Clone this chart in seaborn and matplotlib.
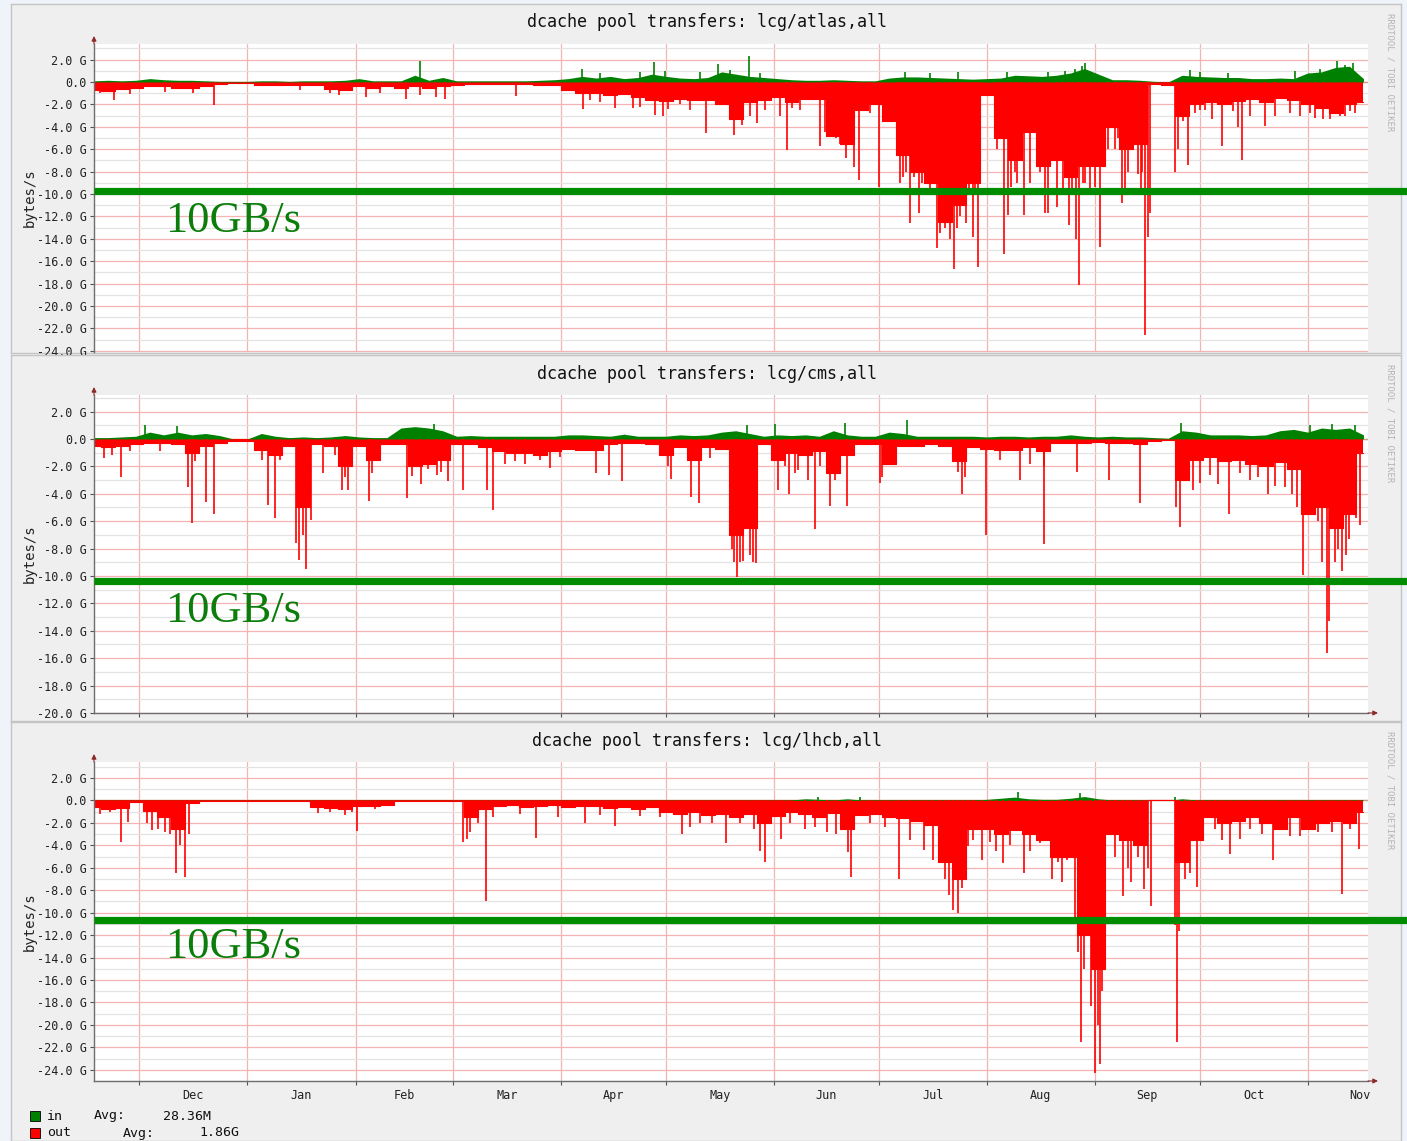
import numpy as np
import pandas as pd
import seaborn as sns
import matplotlib.pyplot as plt
from matplotlib.patches import Rectangle
from matplotlib.ticker import FixedLocator, MultipleLocator, FuncFormatter, NullFormatter

# x = days since 18 Nov (left edge of the graphs), y = GB/s, out drawn negative
start = pd.Timestamp("2010-11-18")
month_starts = pd.date_range("2010-12-01", "2011-11-01", freq="MS")
month_names = [d.strftime("%b") for d in month_starts]

# one "body" value every 4 days, the narrow spikes are listed apart
sample_days = np.arange(0, 365, 4)

titles = ["dcache pool transfers: lcg/atlas,all",
          "dcache pool transfers: lcg/cms,all",
          "dcache pool transfers: lcg/lhcb,all"]
limit_lines = [-9.72, -10.35, -10.69]      # the hand drawn green bars
limit_text = "10GB/s"
legend_names = ["in", "out"]
legend_avgs = ["28.36M", "1.86G"]

# ---------------- atlas ----------------
atlas_out = [-0.7, -0.8, -0.6, -0.5, -0.4, -0.4, -0.5, -0.5, -0.4, -0.15,
             -0.1, -0.1, -0.3, -0.3, -0.25, -0.3, -0.3, -0.6, -0.7, -0.4,
             -0.5, -0.4, -0.5, -0.4, -0.5, -0.35, -0.25, -0.2, -0.2, -0.2,
             -0.2, -0.2, -0.25, -0.3, -0.7, -1.0, -1.0, -1.2, -1.1, -1.3,
             -1.6, -1.7, -1.5, -1.6, -1.6, -2.0, -3.3, -1.8, -1.6, -1.3,
             -1.8, -1.5, -1.5, -4.8, -5.5, -2.5, -2.0, -3.5, -6.5, -8.0,
             -9.0, -12.5, -11.0, -9.0, -1.2, -5.0, -7.0, -4.5, -7.5, -7.0,
             -8.5, -7.5, -7.5, -4.0, -6.0, -5.5, -0.2, -0.3, -3.0, -2.0,
             -1.8, -2.0, -1.7, -1.5, -1.8, -1.4, -1.6, -2.0, -2.3, -2.8,
             -2.0, -1.8]
atlas_in = [0.1, 0.15, 0.1, 0.15, 0.3, 0.2, 0.15, 0.15, 0.1, 0.05,
            0.05, 0.05, 0.1, 0.1, 0.05, 0.1, 0.1, 0.1, 0.15, 0.3,
            0.1, 0.1, 0.1, 0.6, 0.15, 0.4, 0.1, 0.1, 0.1, 0.1,
            0.1, 0.1, 0.15, 0.2, 0.3, 0.5, 0.35, 0.5, 0.3, 0.4,
            0.7, 0.5, 0.35, 0.3, 0.4, 0.9, 0.7, 0.5, 0.4, 0.3,
            0.2, 0.15, 0.15, 0.2, 0.15, 0.1, 0.1, 0.35, 0.45, 0.45,
            0.4, 0.35, 0.3, 0.25, 0.3, 0.35, 0.6, 0.55, 0.5, 0.6,
            0.8, 1.2, 0.7, 0.2, 0.2, 0.15, 0.05, 0.0, 0.6, 0.5,
            0.45, 0.4, 0.4, 0.3, 0.3, 0.35, 0.3, 0.8, 0.9, 1.3,
            1.4, 0.3]
atlas_spike_day = [5.7, 28.4, 34.4, 70.3, 78.0, 89.5, 100.7, 121.0, 140.2, 149.4,
                   154.6, 160.9, 163.2, 175.5, 183.5, 190.1, 196.7, 198.7, 208.2, 211.1,
                   215.7, 218.0, 219.4, 225.1, 231.1, 234.0, 236.6, 241.8, 242.6, 244.0,
                   245.5, 246.6, 248.3, 250.1, 252.1, 253.5, 261.0, 262.1, 264.7, 266.7,
                   268.4, 272.7, 273.6, 276.2, 277.9, 279.6, 281.6, 282.5, 284.2, 285.6,
                   288.5, 292.8, 294.8, 296.5, 298.0, 299.4, 300.3, 301.4, 302.3, 310.0,
                   313.7, 317.2, 320.6, 323.5, 329.2, 331.5, 335.8, 343.0, 350.2, 354.5,
                   358.8, 361.6,
                   209.6, 212.8, 213.9, 216.8, 222.5, 230.3, 232.0, 232.9, 235.2, 237.5,
                   238.7, 239.8, 247.5, 248.9, 250.9, 252.6, 254.0, 259.0, 259.8, 263.0,
                   264.1, 265.6, 269.9, 271.3, 278.8, 280.5, 283.6, 287.1, 290.8, 293.7,
                   295.6, 300.6, 302.9, 310.9, 312.3, 315.7, 318.6, 326.6, 328.1, 338.6,
                   345.9, 348.7, 352.4, 357.2, 360.2, 1.7, 10.3, 20.4, 59.1, 67.7,
                   82.0, 93.5, 98.1, 142.2, 145.1, 156.6, 164.6, 168.1, 170.9, 179.5,
                   185.8, 188.1, 192.4, 200.2, 202.5]
atlas_spike_out = [-1.6, -1.0, -2.1, -1.2, -1.35, -1.5, -1.5, -1.25, -2.4, -2.3,
                   -2.3, -2.95, -3.0, -4.6, -4.7, -3.7, -3.0, -6.1, -5.7, -4.3,
                   -6.8, -7.6, -8.75, -9.35, -9.0, -12.6, -11.7, -14.8, -13.5, -13.0,
                   -14.0, -16.7, -12.0, -12.6, -13.8, -16.5, -15.4, -11.9, -9.0, -11.9,
                   -9.0, -11.7, -11.7, -11.2, -10.0, -12.8, -14.0, -18.1, -9.0, -9.5,
                   -14.7, -6.0, -10.8, -8.0, -5.0, -8.2, -10.0, -22.6, -13.8, -8.0,
                   -7.4, -2.5, -3.3, -5.7, -7.0, -3.0, -3.9, -2.8, -3.2, -3.3,
                   -3.0, -2.8,
                   -4.5, -5.0, -5.5, -5.2, -2.8, -5.5, -8.5, -8.0, -8.5, -9.0,
                   -8.0, -10.0, -13.0, -11.0, -9.6, -9.5, -5.0, -6.0, -5.0, -9.4,
                   -8.0, -6.5, -3.5, -8.0, -8.0, -10.0, -9.0, -9.4, -6.0, -5.0,
                   -10.0, -8.0, -11.7, -6.0, -3.5, -2.8, -2.5, -2.6, -4.0, -3.0,
                   -3.0, -2.8, -3.3, -3.0, -2.6, -1.0, -1.1, -0.9, -0.7, -1.0,
                   -1.0, -1.2, -1.3, -1.6, -1.8, -2.2, -2.4, -2.0, -2.5, -2.0,
                   -3.8, -3.0, -2.5, -2.3, -2.5]
atlas_in_spike_day = [93.5, 140.0, 160.6, 178.9, 187.8, 284.2, 356.5,
                      145.1, 156.6, 163.7, 173.8, 182.4, 191.0, 232.6, 239.8, 247.8,
                      261.8, 273.6, 278.5, 281.3, 283.3, 314.3, 317.2, 325.2, 344.4,
                      351.6, 358.8, 361.1]
atlas_in_spike_val = [1.9, 1.15, 1.8, 1.6, 2.3, 1.65, 1.9,
                      0.8, 0.9, 1.0, 0.9, 1.1, 0.8, 0.9, 0.8, 0.85,
                      0.85, 0.9, 1.0, 1.2, 1.4, 1.1, 0.9, 0.8, 1.0,
                      1.2, 1.5, 1.65]

# ---------------- cms ----------------
cms_out = [-0.5, -0.6, -0.5, -0.4, -0.3, -0.3, -0.4, -1.0, -0.5, -0.3,
           -0.15, -0.15, -0.8, -1.2, -0.5, -5.0, -0.4, -0.5, -2.0, -0.5,
           -1.5, -0.4, -0.4, -2.0, -1.8, -1.5, -0.4, -0.4, -0.6, -0.9,
           -1.0, -1.0, -1.2, -0.9, -0.7, -0.8, -0.8, -0.4, -0.3, -0.3,
           -0.4, -1.2, -0.6, -1.5, -0.6, -0.7, -7.0, -6.5, -0.4, -1.5,
           -1.0, -1.2, -0.9, -2.5, -1.2, -0.4, -0.4, -1.8, -0.5, -0.5,
           -0.4, -0.5, -1.6, -0.6, -0.7, -0.8, -0.8, -0.6, -0.9, -0.3,
           -0.3, -0.3, -0.25, -0.3, -0.3, -0.4, -0.15, -0.1, -3.0, -1.5,
           -1.3, -1.6, -1.5, -1.8, -2.0, -1.7, -2.2, -5.5, -5.0, -6.5,
           -5.5, -1.0]
cms_in = [0.1, 0.1, 0.15, 0.2, 0.5, 0.3, 0.5, 0.3, 0.4, 0.25,
          0.0, 0.0, 0.4, 0.2, 0.1, 0.15, 0.1, 0.15, 0.25, 0.15,
          0.1, 0.1, 0.8, 0.9, 0.8, 0.6, 0.2, 0.25, 0.2, 0.2,
          0.2, 0.2, 0.2, 0.2, 0.3, 0.3, 0.25, 0.2, 0.35, 0.2,
          0.2, 0.2, 0.3, 0.25, 0.3, 0.5, 0.6, 0.4, 0.2, 0.3,
          0.25, 0.3, 0.2, 0.6, 0.3, 0.2, 0.2, 0.5, 0.4, 0.2,
          0.2, 0.2, 0.2, 0.2, 0.15, 0.2, 0.2, 0.15, 0.2, 0.2,
          0.3, 0.2, 0.15, 0.2, 0.15, 0.15, 0.1, 0.05, 0.6, 0.5,
          0.3, 0.3, 0.3, 0.25, 0.3, 0.6, 0.7, 0.5, 0.8, 0.7,
          0.8, 0.3]
cms_spike_day = [2.9, 7.7, 27.0, 28.1, 32.1, 34.4, 49.9, 51.9, 57.9, 58.9,
                 59.9, 60.8, 62.2, 65.7, 71.1, 72.8, 78.9, 89.8, 93.8, 98.4,
                 101.5, 105.8, 112.7, 114.4, 130.8, 144.0, 147.7, 151.4, 165.5, 171.2,
                 173.5, 183.0, 183.5, 184.4, 185.3, 186.1, 188.1, 189.0, 189.8, 196.2,
                 199.3, 201.9, 204.8, 206.6, 210.9, 215.8, 225.3, 248.8, 255.8, 265.6,
                 272.4, 281.9, 291.1, 300.0, 310.3, 311.4, 315.2, 325.5, 336.5, 346.7,
                 349.3, 353.6, 354.2, 355.9, 357.9, 359.9, 361.9, 363.0,
                 5.2, 10.3, 18.9, 28.9, 48.2, 53.3, 69.1, 72.0, 79.7, 91.2,
                 95.8, 99.5, 117.9, 120.7, 123.6, 127.9, 133.6, 164.6, 176.7, 198.1,
                 201.0, 208.2, 212.5, 226.0, 247.8, 249.8, 259.8, 268.4, 272.5, 313.2,
                 317.2, 320.0, 322.3, 328.6, 331.5, 333.8, 338.7, 341.6, 343.6, 345.0,
                 351.0, 352.1, 356.8, 359.0]
cms_spike_out = [-1.4, -2.8, -3.5, -6.1, -4.6, -5.5, -4.8, -5.8, -7.6, -8.8,
                 -7.0, -9.5, -5.9, -2.5, -3.7, -3.7, -4.5, -4.3, -3.3, -2.6,
                 -3.1, -3.7, -3.7, -5.2, -2.1, -2.5, -2.6, -3.1, -2.9, -4.2,
                 -4.7, -8.0, -9.0, -10.1, -9.0, -8.9, -8.5, -9.0, -9.05, -3.7,
                 -4.0, -2.3, -3.0, -6.6, -4.9, -4.9, -3.2, -4.0, -7.0, -3.0,
                 -7.7, -2.4, -3.0, -4.7, -5.0, -6.4, -3.7, -5.5, -4.0, -9.9,
                 -4.5, -15.6, -13.3, -9.0, -9.6, -7.3, -5.8, -6.3,
                 -1.2, -0.9, -0.9, -1.6, -1.5, -1.5, -1.2, -2.8, -2.5, -2.7,
                 -2.2, -2.4, -1.8, -1.6, -1.8, -1.5, -1.3, -2.0, -1.4, -2.0,
                 -2.5, -2.0, -3.0, -2.8, -2.4, -2.8, -1.5, -1.8, -2.0, -3.0,
                 -3.2, -2.6, -3.3, -2.5, -3.0, -2.8, -3.4, -3.5, -4.0, -5.0,
                 -6.0, -9.0, -8.0, -8.5]
cms_in_spike_day = [14.6, 23.8, 97.5, 187.3, 195.3, 215.4, 233.2, 311.7, 348.7, 355.0, 361.6]
cms_in_spike_val = [1.0, 0.95, 1.1, 1.0, 1.1, 1.15, 1.35, 1.2, 1.05, 1.1, 1.0]

# ---------------- lhcb ----------------
lhcb_out = [-0.6, -0.8, -0.7, -0.1, -0.9, -1.5, -2.5, -0.2, -0.05, -0.02,
            -0.02, -0.02, -0.02, -0.02, -0.02, -0.02, -0.6, -0.7, -0.8, -0.5,
            -0.5, -0.4, -0.02, -0.02, -0.02, -0.02, -0.02, -1.5, -0.8, -0.5,
            -0.4, -0.6, -0.5, -0.4, -0.6, -0.5, -0.5, -0.7, -0.6, -0.8,
            -0.6, -1.0, -1.2, -1.0, -1.3, -1.2, -1.5, -1.2, -2.0, -1.4,
            -1.0, -1.2, -1.5, -1.1, -2.5, -1.3, -1.2, -1.5, -1.6, -1.8,
            -2.2, -5.5, -7.0, -2.5, -2.5, -3.0, -2.6, -3.0, -3.5, -5.0,
            -5.0, -12.0, -15.0, -3.0, -3.5, -4.0, 0.0, 0.0, -5.5, -3.5,
            -1.5, -2.0, -1.8, -1.5, -2.0, -2.5, -1.5, -2.5, -2.0, -1.8,
            -2.0, -1.0]
lhcb_in = [0.02, 0.02, 0.02, 0.02, 0.02, 0.02, 0.02, 0.02, 0.02, 0.02,
           0.02, 0.02, 0.02, 0.02, 0.02, 0.02, 0.02, 0.02, 0.02, 0.02,
           0.02, 0.02, 0.02, 0.02, 0.02, 0.02, 0.02, 0.02, 0.02, 0.02,
           0.02, 0.02, 0.02, 0.02, 0.02, 0.02, 0.02, 0.02, 0.02, 0.03,
           0.03, 0.03, 0.03, 0.03, 0.03, 0.03, 0.03, 0.03, 0.03, 0.03,
           0.05, 0.15, 0.1, 0.05, 0.15, 0.05, 0.05, 0.05, 0.05, 0.05,
           0.05, 0.05, 0.05, 0.05, 0.1, 0.2, 0.3, 0.15, 0.1, 0.1,
           0.2, 0.35, 0.15, 0.05, 0.05, 0.05, 0.02, 0.02, 0.15, 0.05,
           0.05, 0.05, 0.05, 0.05, 0.05, 0.05, 0.05, 0.05, 0.05, 0.05,
           0.05, 0.05]
lhcb_spike_day = [7.7, 9.8, 15.1, 16.6, 23.5, 24.7, 26.1, 27.2, 75.4, 105.8,
                  107.0, 112.4, 126.8, 140.8, 149.4, 168.6, 181.2, 192.4, 197.0, 210.2,
                  216.2, 217.0, 230.9, 238.0, 240.6, 245.1, 246.3, 247.8, 248.9, 250.6,
                  254.7, 257.0, 260.7, 266.7, 274.7, 277.6, 279.0, 281.3, 282.2, 283.1,
                  283.9, 285.1, 285.9, 287.1, 287.9, 288.5, 289.1, 289.9, 295.1, 297.4,
                  301.1, 303.1, 310.0, 310.6, 311.2, 316.3, 325.8, 338.1, 357.9, 362.8,
                  1.7, 4.6, 18.4, 20.4, 21.8, 64.2, 67.7, 72.0, 74.0, 80.6,
                  107.8, 110.1, 114.4, 122.2, 133.1, 145.1, 156.6, 162.3, 170.9, 173.8,
                  177.2, 185.3, 189.3, 191.0, 199.6, 203.9, 206.8, 212.8, 222.5, 226.8,
                  234.0, 242.6, 244.1, 252.1, 258.7, 262.7, 268.4, 271.3, 276.3, 291.4,
                  292.8, 296.5, 299.4, 302.3, 312.8, 314.3, 318.0, 321.5, 323.5, 328.6,
                  331.5, 334.9, 343.0, 345.9, 351.0, 355.0, 360.2]
lhcb_spike_out = [-3.7, -1.9, -2.0, -2.6, -6.5, -4.0, -6.8, -3.0, -2.7, -3.7,
                  -3.4, -9.0, -3.3, -2.0, -2.3, -3.0, -3.8, -5.5, -3.4, -2.8,
                  -4.6, -6.8, -7.0, -4.4, -5.3, -8.4, -9.8, -10.0, -7.8, -4.1,
                  -5.3, -3.7, -5.6, -6.5, -7.0, -7.3, -5.3, -11.0, -13.5, -21.5,
                  -15.0, -12.0, -18.3, -24.3, -20.0, -23.5, -17.0, -8.0, -8.5, -7.3,
                  -7.9, -9.4, -11.1, -21.5, -11.6, -7.7, -4.8, -5.3, -8.3, -4.3,
                  -1.2, -1.0, -2.5, -2.8, -3.0, -1.1, -1.0, -1.3, -1.0, -0.8,
                  -2.8, -2.0, -1.5, -1.2, -1.5, -1.3, -1.4, -1.5, -2.4, -2.0,
                  -2.0, -2.0, -2.5, -4.5, -2.0, -2.5, -2.4, -3.0, -2.0, -2.4,
                  -3.5, -5.0, -7.0, -3.5, -4.5, -4.0, -4.5, -3.8, -5.5, -3.0,
                  -5.0, -6.0, -5.0, -6.0, -7.0, -6.5, -3.0, -2.5, -3.5, -3.4,
                  -2.5, -3.0, -3.2, -3.2, -2.8, -2.8, -2.5]
lhcb_in_spike_day = [207.6, 219.7, 265.0, 282.8, 310.0]
lhcb_in_spike_val = [0.3, 0.3, 0.75, 0.7, 0.3]

panels = [
    dict(out=atlas_out, inn=atlas_in, sd=atlas_spike_day, sv=atlas_spike_out,
         isd=atlas_in_spike_day, isv=atlas_in_spike_val),
    dict(out=cms_out, inn=cms_in, sd=cms_spike_day, sv=cms_spike_out,
         isd=cms_in_spike_day, isv=cms_in_spike_val),
    dict(out=lhcb_out, inn=lhcb_in, sd=lhcb_spike_day, sv=lhcb_spike_out,
         isd=lhcb_in_spike_day, isv=lhcb_in_spike_val),
]

# ---------------- layout (pixels of the 1407x1141 picture) ----------------
sns.set_style("white")
plt.rcParams["font.family"] = ["DejaVu Sans Mono"]

W, H = 1407, 1141
RED, GREEN, BAR = "#ff0000", "#008000", "#008c00"
PANEL_BG = "#efefef"
MAJ_GRID, MIN_GRID = "#f4b4b4", "#e3e3e3"

frames = [(11, 4, 1401, 353), (11, 355, 1401, 721), (11, 722, 1401, 1141)]
plots = [(94, 44, 1368, 352), (94, 395, 1368, 713), (94, 762, 1368, 1081)]
ylims = [(-24.11, 3.39), (-20.0, 3.21), (-25.0, 3.43)]
title_py = [22, 374, 741]
text_base = [-13.4, -13.35, -14.08]
XMAX = 365.3

month_days = (month_starts - start).days.values
mid_days = month_days + month_starts.days_in_month.values / 2.0


def frac_rect(x0, y0, x1, y1):
    return [x0 / W, 1 - y1 / H, (x1 - x0) / W, (y1 - y0) / H]


def ylabel_fmt(v, pos):
    if abs(v) < 1e-9:
        return "0.0"
    return f"{v:.1f} G"


fig = plt.figure(figsize=(W / 100, H / 100), dpi=100, facecolor="#eef4f9")

for k, p in enumerate(panels):
    fr = fig.add_axes(frac_rect(*frames[k]))
    fr.set_facecolor(PANEL_BG)
    fr.set_xticks([])
    fr.set_yticks([])
    for s in fr.spines.values():
        s.set_color("#c4c4c4")
        s.set_linewidth(1.0)

    x0, y0, x1, y1 = plots[k]
    ax = fig.add_axes(frac_rect(*plots[k]))
    ax.set_facecolor("white")

    # grid
    ax.yaxis.set_major_locator(MultipleLocator(2))
    ax.yaxis.set_minor_locator(MultipleLocator(1))
    ax.yaxis.set_major_formatter(FuncFormatter(ylabel_fmt))
    ax.xaxis.set_major_locator(FixedLocator(month_days))
    ax.xaxis.set_major_formatter(NullFormatter())
    ax.set_axisbelow(True)
    ax.grid(which="minor", axis="y", color=MIN_GRID, lw=0.9)
    ax.grid(which="major", axis="y", color=MAJ_GRID, lw=0.9)
    ax.grid(which="major", axis="x", color=MAJ_GRID, lw=0.9)

    # data: out as 4-day columns, in as a thin band, plus the narrow spikes
    ax.axhline(0, color="#c9a57f", lw=1.0, zorder=1.5)
    ax.fill_between(sample_days, 0, p["out"], step="mid", color=RED, lw=0, zorder=2)
    ax.fill_between(sample_days, 0, p["inn"], color=GREEN, lw=0, zorder=2)
    sns.lineplot(x=sample_days, y=p["out"], ax=ax, color=RED, lw=0.8,
                 drawstyle="steps-mid", zorder=2.1)
    ax.vlines(p["sd"], 0, p["sv"], color=RED, lw=1.2, zorder=2.2)
    ax.vlines(p["isd"], 0, p["isv"], color=GREEN, lw=1.2, zorder=2.2)
    ax.set_xlabel("")
    ax.set_ylabel("")
    ax.set_xlim(0, XMAX)
    ax.set_ylim(*ylims[k])

    # the added 10GB/s marker
    ax.axhline(limit_lines[k], xmin=0, xmax=(W - x0) / (x1 - x0), color=BAR,
               lw=5.2, clip_on=False, zorder=6, solid_capstyle="butt")
    ax.text(20.4, text_base[k], limit_text, family="Liberation Serif", size=32,
            color="#0a7d0a", va="baseline", ha="left", zorder=6)

    # axes look
    for side in ("top", "right"):
        ax.spines[side].set_visible(False)
    ax.spines["left"].set_color("#6e6e6e")
    ax.spines["left"].set_linewidth(1.0)
    ax.spines["bottom"].set_color("#6e6e6e")
    ax.spines["bottom"].set_linewidth(1.0)
    if k == 0:
        ax.spines["bottom"].set_visible(False)
    ax.tick_params(axis="y", which="major", length=3, width=0.8, color="#555555",
                   pad=2, labelsize=8.5, labelcolor="#222222", left=True)
    ax.tick_params(axis="y", which="minor", length=0, left=False)
    ax.tick_params(axis="x", which="major", length=3, width=0.8, color="#555555",
                   bottom=(k > 0))
    if k == 2:
        ax.set_xticks(mid_days, month_names, minor=True)
        ax.tick_params(axis="x", which="minor", length=0, pad=6, labelsize=8.5,
                       labelcolor="#222222")
    ph = y1 - y0
    ax.annotate("", xy=(0, 1 + 8 / ph), xytext=(0, 1.0), xycoords="axes fraction",
                arrowprops=dict(arrowstyle="-|>", color="#8c2a2a", lw=0.8,
                                mutation_scale=7, shrinkA=0, shrinkB=0))
    if k > 0:
        ax.annotate("", xy=(1 + 10 / (x1 - x0), 0), xytext=(1.0, 0),
                    xycoords="axes fraction",
                    arrowprops=dict(arrowstyle="-|>", color="#8c2a2a", lw=0.8,
                                    mutation_scale=7, shrinkA=0, shrinkB=0))

    # texts around the graph
    fig.text(707 / W, 1 - title_py[k] / H, titles[k], ha="center", va="center",
             size=12, color="#111111")
    fig.text(30 / W, 1 - (y0 + y1) / 2 / H, "bytes/s", rotation=90, ha="center",
             va="center", size=10, color="#222222")
    fig.text(1390 / W, 1 - (frames[k][1] + 9) / H, "RRDTOOL / TOBI OETIKER",
             rotation=-90, ha="center", va="top", size=6.5, color="#b4b4b4")

# legend under the last graph
for row, (name, avg, col) in enumerate(zip(legend_names, legend_avgs, [GREEN, RED])):
    yc = 1116 + row * 17
    fig.add_artist(Rectangle((30 / W, 1 - (yc + 5) / H), 10 / W, 10 / H,
                             transform=fig.transFigure, facecolor=col,
                             edgecolor="black", lw=0.6))
    fig.text(47 / W, 1 - yc / H, name, va="center", size=9.5, color="#111111")
    fig.text((94 if row == 0 else 123) / W, 1 - yc / H, "Avg:", va="center",
             size=9.5, color="#111111")
    fig.text((163 if row == 0 else 199) / W, 1 - yc / H, avg, va="center",
             size=9.5, color="#111111")

fig.savefig("out.png", dpi=100, facecolor=fig.get_facecolor())
